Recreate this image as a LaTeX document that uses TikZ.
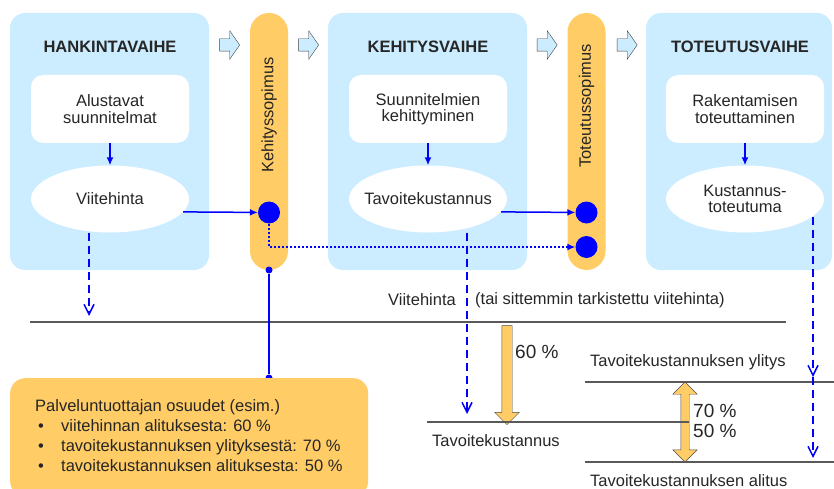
\documentclass[tikz,border=0pt]{standalone}
\usepackage{fontspec}
\setmainfont{Liberation Sans}
\usepackage{xcolor}
\usetikzlibrary{arrows.meta, calc, shapes.geometric, shapes.arrows}
\definecolor{phasefill}{HTML}{CCECFF}
\definecolor{sopimus}{HTML}{FFCC66}
\definecolor{linkblue}{HTML}{0000FF}

\begin{document}
\begin{tikzpicture}[
  x=1pt, y=-1pt,
  every node/.style={font=\fontsize{16.5}{16.5}\selectfont, text=black!85, inner sep=0pt},
  phase/.style={rectangle, rounded corners=15pt, fill=phasefill,
    minimum width=199pt, minimum height=257pt},
  title/.style={font=\fontsize{16.5}{16.5}\selectfont\bfseries},
  task/.style={rectangle, rounded corners=12pt, fill=white, align=center,
    minimum width=158pt, minimum height=68pt},
  target/.style={ellipse, fill=white, align=center, inner xsep=-20pt,
    minimum width=158pt, minimum height=67pt},
  contract/.style={rectangle, rounded corners=19pt, fill=sopimus,
    minimum width=38pt, minimum height=257pt},
  stepflow/.style={single arrow, fill=phasefill, draw=black!75, thin,
    minimum height=20pt, inner sep=6pt, single arrow head extend=8pt,
    single arrow tip angle=110},
  bigdot/.style={circle, fill=linkblue, minimum size=22pt},
  smalldot/.style={circle, fill=linkblue, minimum size=7pt},
  link/.style={-{Latex[length=8pt, width=7pt]}, draw=linkblue, line width=1.5pt},
  dotlink/.style={-{Latex[length=8pt, width=7pt]}, draw=linkblue, line width=1.5pt,
    dash pattern=on 2pt off 2pt},
  dashlink/.style={-{Straight Barb[length=10pt, width=10pt]}, draw=linkblue,
    line width=1.5pt, dash pattern=on 8pt off 5pt},
  plain/.style={draw=linkblue, line width=1.5pt},
  level/.style={draw=black!65, line width=1.2pt},
  share/.style={fill=sopimus, draw=black!70, thin, inner sep=5pt},
  pct/.style={anchor=west, font=\fontsize{19}{19}\selectfont},
  note/.style={rectangle, rounded corners=15pt, fill=sopimus,
    minimum width=358pt, minimum height=118pt},
  bullet/.style={align=left, font=\fontsize{16.5}{20}\selectfont},
]
  \useasboundingbox (0,0) rectangle (834,489);

  % phases
  \node[phase] (p1) at (109.5,141.5) {};
  \node[phase] (p2) at (427.5,141.5) {};
  \node[phase, minimum width=186pt] (p3) at (739,141.5) {};
  \node[title] (t1) at (110,47) {HANKINTAVAIHE};
  \node[title] (t2) at (428,47) {KEHITYSVAIHE};
  \node[title] (t3) at (740,47) {TOTEUTUSVAIHE};

  \node[task] (a1) at (110,109) {Alustavat\\suunnitelmat};
  \node[task] (a2) at (428,109) {Suunnitelmien\\kehittyminen};
  \node[task] (a3) at (745,109) {Rakentamisen\\toteuttaminen};
  \node[target] (e1) at (110,199) {Viitehinta};
  \node[target] (e2) at (428,199) {Tavoitekustannus};
  \node[target] (e3) at (745,199) {Kustannus-\\toteutuma};

  % contracts
  \node[contract] (k1) at (269,141.5) {};
  \node[contract] (k2) at (586.5,141.5) {};
  \node[rotate=90] (k1t) at (269,115) {Kehityssopimus};
  \node[rotate=90] (k2t) at (586.5,106) {Toteutussopimus};

  \node[stepflow] (f1) at (227.5,45) {};
  \node[stepflow] (f2) at (306.5,45) {};
  \node[stepflow] (f3) at (545,45) {};
  \node[stepflow] (f4) at (625,45) {};

  \node[bigdot] (d1) at (269,212.5) {};
  \node[bigdot] (d2) at (586.5,212.5) {};
  \node[bigdot] (d3) at (586.5,247) {};
  \node[smalldot] (s1) at (269,270) {};
  \node[smalldot] (s2) at (269,378) {};

  \draw[link] (a1) -- (e1);
  \draw[link] (a2) -- (e2);
  \draw[link] (a3) -- (e3);
  \draw[link] (e1.-10) -- (d1);
  \draw[link] (e2.-10) -- (d2);
  \draw[dotlink] (d1) |- (d3);

  % cost levels
  \coordinate (v0) at (30,322);
  \coordinate (v1) at (786,322);
  \coordinate (c0) at (427,422);
  \coordinate (c1) at (689,422);
  \coordinate (y0) at (585,382);
  \coordinate (y1) at (834,382);
  \coordinate (b0) at (585,462);
  \coordinate (b1) at (834,462);

  \node[share, single arrow, rotate=-90, minimum height=99pt,
    single arrow head extend=7pt] (g1) at (507,372.5) {};
  \node[share, double arrow, rotate=90, minimum height=80pt, inner sep=4pt,
    double arrow head extend=8pt] (g2) at (685,422) {};

  \draw[level] (v0) -- (v1);
  \draw[level] (c0) -- (c1);
  \draw[level] (y0) -- (y1);
  \draw[level] (b0) -- (b1);

  \node[anchor=west] (l1) at (388,300) {Viitehinta};
  \node[anchor=west] (l2) at (475,300) {(tai sittemmin tarkistettu viitehinta)};
  \node[anchor=west] (l3) at (432,441) {Tavoitekustannus};
  \node[anchor=west] (l4) at (590,362) {Tavoitekustannuksen ylitys};
  \node[anchor=west] (l5) at (590,481) {Tavoitekustannuksen alitus};
  \node[pct] (q1) at (515,352) {60 \%};
  \node[pct] (q2) at (693,411) {70 \%};
  \node[pct] (q3) at (693,431) {50 \%};

  \coordinate (h1) at (89,316);
  \coordinate (h2) at (467,414);
  \coordinate (h3) at (813,377);
  \coordinate (h4) at (813,458);
  \draw[dashlink] (e1.south -| h1) -- (h1);
  \draw[dashlink] (e2.south -| h2) -- (h2);
  \draw[dashlink] (e3.-15 -| h3) -- (h3);
  \draw[dashlink] (h3) -- (h4);

  % shares of the provider
  \node[note, anchor=north west] (n1) at (10,378) {};
  \node[bullet, anchor=north west] (n1t) at (35,399) {%
    Palveluntuottajan osuudet (esim.)\\
    \makebox[26pt][l]{\hspace{3pt}\textbullet}viitehinnan alituksesta: 60 \%\\
    \makebox[26pt][l]{\hspace{3pt}\textbullet}tavoitekustannuksen ylityksestä: 70 \%\\
    \makebox[26pt][l]{\hspace{3pt}\textbullet}tavoitekustannuksen alituksesta: 50 \%};
  \draw[plain] (s1) -- (s2);
\end{tikzpicture}
\end{document}
